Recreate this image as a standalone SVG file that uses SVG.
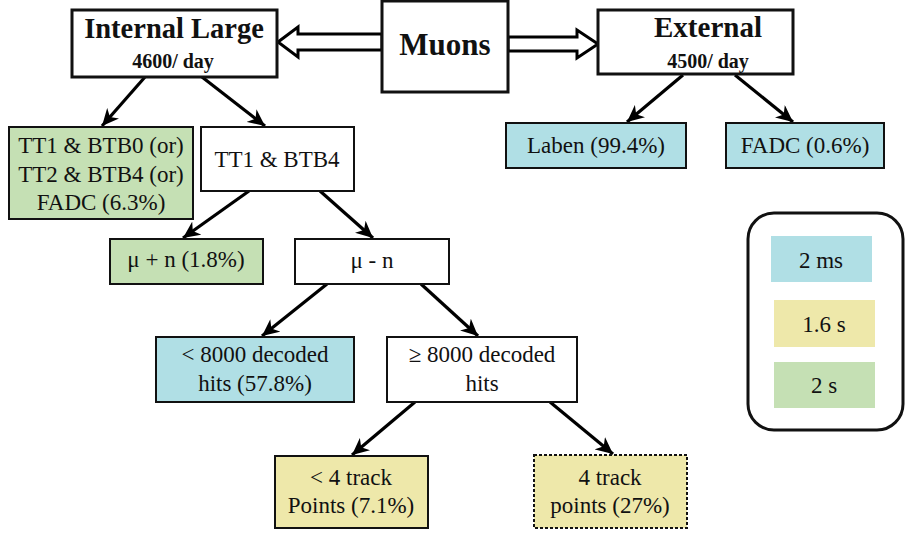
<svg xmlns="http://www.w3.org/2000/svg" width="908" height="534" viewBox="0 0 908 534">
<defs>
<style>
text{font-family:"Liberation Serif","DejaVu Serif",serif;fill:#111;text-anchor:middle}
.t{font-size:23px}
.b{font-weight:bold}
.box{stroke:#111;stroke-width:2}
.hdr{fill:#fff;stroke:#111;stroke-width:3}
.w{fill:#fff}
.g{fill:#c5e0b4}
.c{fill:#b0dfe5}
.y{fill:#eee8aa}
.con{stroke:#000;stroke-width:3.2;fill:none;marker-end:url(#ah)}
.hol{fill:#fff;stroke:#000;stroke-width:3;stroke-linejoin:miter}
</style>
<marker id="ah" markerUnits="userSpaceOnUse" markerWidth="18" markerHeight="16" refX="17" refY="8" orient="auto" viewBox="0 0 18 16">
<path d="M0,0 L17,8 L0,16 L5,8 z" fill="#000"/>
</marker>
</defs>
<rect width="908" height="534" fill="#fff"/>
<g id="connectors">
<polygon class="hol" points="278,42 298,27 298,34 382,34 382,50 298,50 298,57"/>
<polygon class="hol" points="598,44 577,30 577,37 508,37 508,51 577,51 577,58"/>
<line class="con" x1="145" y1="77" x2="102" y2="126"/>
<line class="con" x1="202" y1="77" x2="265" y2="126"/>
<line class="con" x1="683" y1="75" x2="627" y2="122"/>
<line class="con" x1="735" y1="75" x2="793" y2="122"/>
<line class="con" x1="249" y1="191" x2="183" y2="238"/>
<line class="con" x1="320" y1="191" x2="373" y2="238"/>
<line class="con" x1="327" y1="284" x2="262" y2="336"/>
<line class="con" x1="421" y1="284" x2="478" y2="336"/>
<line class="con" x1="415" y1="402" x2="352" y2="455"/>
<line class="con" x1="550" y1="402" x2="613" y2="454"/>
</g>
<g id="internal">
<rect class="hdr" x="72" y="10" width="205" height="67"/>
<text class="b" x="174" y="38" font-size="28.5">Internal Large</text>
<text class="b" x="173" y="68" font-size="20">4600/ day</text>
</g>
<g id="muons">
<rect class="hdr" x="382" y="1" width="126" height="91"/>
<text class="b" x="445" y="55" font-size="31">Muons</text>
</g>
<g id="external">
<rect class="hdr" x="598" y="10" width="195" height="64"/>
<text class="b" x="708" y="37" font-size="29">External</text>
<text class="b" x="708" y="68" font-size="20">4500/ day</text>
</g>
<g id="tt1btb0">
<rect class="box g" x="9" y="127" width="184" height="92"/>
<text class="t" x="101" y="153">TT1 &amp; BTB0 (or)</text>
<text class="t" x="101" y="182">TT2 &amp; BTB4 (or)</text>
<text class="t" x="101" y="210">FADC (6.3%)</text>
</g>
<g id="tt1btb4">
<rect class="box w" x="201" y="127" width="153" height="64"/>
<text class="t" x="277" y="167">TT1 &amp; BTB4</text>
</g>
<g id="laben">
<rect class="box c" x="506" y="123" width="180" height="45"/>
<text class="t" x="596" y="153">Laben (99.4%)</text>
</g>
<g id="fadc">
<rect class="box c" x="726" y="123" width="158" height="45"/>
<text class="t" x="805" y="153">FADC (0.6%)</text>
</g>
<g id="mupn">
<rect class="box g" x="110" y="239" width="153" height="45"/>
<text class="t" x="186" y="267">μ + n (1.8%)</text>
</g>
<g id="mumn">
<rect class="box w" x="295" y="239" width="154" height="45"/>
<text class="t" x="372" y="268">μ - n</text>
</g>
<g id="lt8000">
<rect class="box c" x="156" y="337" width="198" height="65"/>
<text class="t" x="255" y="362">&lt; 8000 decoded</text>
<text class="t" x="255" y="391">hits (57.8%)</text>
</g>
<g id="ge8000">
<rect class="box w" x="387" y="337" width="190" height="65"/>
<text class="t" x="482" y="362">≥ 8000 decoded</text>
<text class="t" x="482" y="391">hits</text>
</g>
<g id="lt4track">
<rect class="box y" x="275" y="456" width="153" height="72"/>
<text class="t" x="351" y="485">&lt; 4 track</text>
<text class="t" x="351" y="513">Points (7.1%)</text>
</g>
<g id="track4">
<rect class="box y" x="534" y="455" width="153" height="73" stroke-dasharray="3,2"/>
<text class="t" x="610" y="485">4 track</text>
<text class="t" x="610" y="513">points (27%)</text>
</g>
<g id="legend">
<rect x="748" y="213" width="155" height="217" rx="26" ry="26" fill="#fff" stroke="#111" stroke-width="3"/>
<rect class="c" x="771" y="236" width="101" height="46"/>
<text class="t" x="821" y="268">2 ms</text>
<rect class="y" x="774" y="300" width="101" height="47"/>
<text class="t" x="824" y="332">1.6 s</text>
<rect class="g" x="774" y="362" width="101" height="46"/>
<text class="t" x="824" y="393">2 s</text>
</g>
</svg>
